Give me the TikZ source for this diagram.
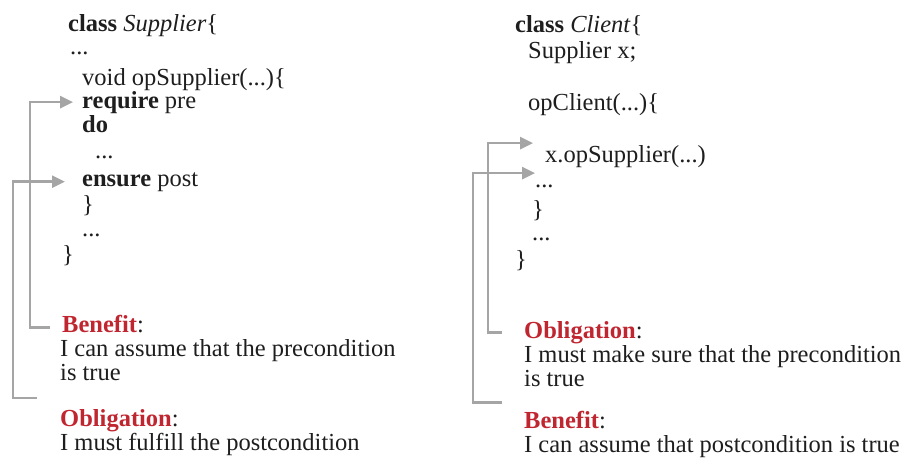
\documentclass[tikz,border=0pt]{standalone}
\usepackage{fontspec}
\setmainfont{Liberation Serif}
\usetikzlibrary{arrows.meta, positioning}
\definecolor{linkgray}{RGB}{165,165,165}
\definecolor{labelred}{RGB}{192,38,48}
\definecolor{codeblack}{RGB}{30,30,30}

\begin{document}
\begin{tikzpicture}[x=1pt, y=-1pt, >={Triangle[length=13pt, width=12pt]},
  code/.style={anchor=base west, inner sep=0pt, text=codeblack,
    font=\fontsize{24.5}{26}\selectfont},
  lbl/.style={code, text=labelred},
  link/.style={->, draw=linkgray, line width=2.6pt}]
  \useasboundingbox (0,0) rectangle (906,475);

  % Supplier code
  \node[code] (clsS)  at (68,31)  {\textbf{class} \textit{Supplier}\{};
  \node[code] (dotS1) at (70,54)  {...};
  \node[code] (opS)   at (82,85)  {void opSupplier(...)\{};
  \node[code] (req)   at (82,108) {\textbf{require} pre};
  \node[code] (doS)   at (82,132) {\textbf{do}};
  \node[code] (dotS2) at (95,158) {...};
  \node[code] (ens)   at (82,186) {\textbf{ensure} post};
  \node[code] (brS1)  at (82,212) {\}};
  \node[code] (dotS3) at (82,236) {...};
  \node[code] (brS2)  at (62,262) {\}};

  % Supplier contract
  \node[lbl]  (benL)  at (62,332) {\textbf{Benefit}\textcolor{codeblack}{:}};
  \node[code] (benL1) at (60,356) {I can assume that the precondition};
  \node[code] (benL2) at (60,380) {is true};
  \node[lbl]  (oblL)  at (60,426) {\textbf{Obligation}\textcolor{codeblack}{:}};
  \node[code] (oblL1) at (60,450) {I must fulfill the postcondition};

  % Client code
  \node[code] (clsC)  at (515,32)  {\textbf{class} \textit{Client}\{};
  \node[code] (supx)  at (528,58)  {Supplier x;};
  \node[code] (opC)   at (528,110) {opClient(...)\{};
  \node[code] (call)  at (545,162) {x.opSupplier(...)};
  \node[code] (dotC1) at (535,187) {...};
  \node[code] (brC1)  at (532,217) {\}};
  \node[code] (dotC2) at (532,240) {...};
  \node[code] (brC2)  at (515,267) {\}};

  % Client contract
  \node[lbl]  (oblR)  at (524,338) {\textbf{Obligation}\textcolor{codeblack}{:}};
  \node[code] (oblR1) at (524,362) {I must make sure that the precondition};
  \node[code] (oblR2) at (524,386) {is true};
  \node[lbl]  (benR)  at (524,428) {\textbf{Benefit}\textcolor{codeblack}{:}};
  \node[code] (benR1) at (524,452) {I can assume that postcondition is true};

  % Links
  \draw[link] ([xshift=-12pt, yshift=-4pt]benL.west) -- ++(-20,0)
    |- ([xshift=-9pt]req.west);
  \draw[link] ([xshift=-23pt, yshift=11pt]oblL.north west) -- ++(-24,0)
    |- ([xshift=-17pt]ens.west);
  \draw[link] ([xshift=-22pt]oblR.west) -- ++(-14,0)
    |- ([xshift=-12pt, yshift=13pt]call.west);
  \draw[link] ([xshift=-22pt, yshift=8pt]benR.north west) -- ++(-29,0)
    |- ([xshift=-10pt, yshift=-17pt]call.west);
\end{tikzpicture}
\end{document}
